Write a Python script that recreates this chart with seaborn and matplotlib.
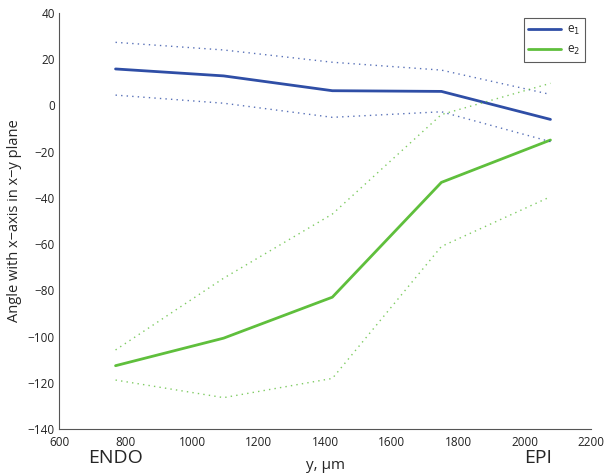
import numpy as np
import pandas as pd
import seaborn as sns
import matplotlib
matplotlib.use('Agg')
import matplotlib.pyplot as plt

# depth positions across the wall (um)
y_pos = [770, 1095, 1422, 1750, 2078]

# e1 angle: mean and bounds
e1_mean = [15.7, 12.7, 6.3, 6.0, -6.1]
e1_upper = [27.2, 23.9, 18.6, 15.2, 4.7]
e1_lower = [4.4, 0.9, -5.2, -2.8, -15.7]

# e2 angle: mean and bounds
e2_mean = [-112.5, -100.6, -82.9, -33.3, -15.0]
e2_upper = [-105.7, -74.7, -47.0, -4.0, 9.5]
e2_lower = [-118.7, -126.3, -118.0, -61.0, -39.5]

blue = '#2f4ea6'
green = '#5fbf3c'

sns.set_style('white')
plt.rcParams['font.family'] = ['Open Sans', 'DejaVu Sans']

fig = plt.figure(figsize=(6.11, 4.76), dpi=100)
ax = fig.add_axes([0.0966, 0.098, 0.8707, 0.8753])

df = pd.DataFrame({'y': y_pos, 'e1': e1_mean, 'e1u': e1_upper, 'e1l': e1_lower,
                   'e2': e2_mean, 'e2u': e2_upper, 'e2l': e2_lower})

sns.lineplot(data=df, x='y', y='e1', color=blue, linewidth=2, ax=ax, label='e$_1$')
sns.lineplot(data=df, x='y', y='e2', color=green, linewidth=2, ax=ax, label='e$_2$')
for col, c in [('e1u', blue), ('e1l', blue), ('e2u', green), ('e2l', green)]:
    sns.lineplot(data=df, x='y', y=col, color=c, linewidth=1.0, ax=ax,
                 dashes=False, alpha=0.8)
    ax.lines[-1].set_dashes((1, 3))

ax.set_xlim(600, 2200)
ax.set_ylim(-140, 40)
ax.set_xticks(np.arange(600, 2201, 200))
ax.set_yticks(np.arange(-140, 41, 20))
ax.tick_params(direction='in', length=4, width=0.8, color='#555555',
               labelsize=8.5, pad=3, labelcolor='#222222')
ax.tick_params(axis='x', pad=5)
for s in ['top', 'right']:
    ax.spines[s].set_visible(False)
for s in ['left', 'bottom']:
    ax.spines[s].set_color('#555555')
    ax.spines[s].set_linewidth(0.8)

ax.set_xlabel('y, \u03bcm', fontsize=11, labelpad=6)
ax.set_ylabel('Angle with x\u2212axis in x\u2212y plane', fontsize=10.5, labelpad=4)

trans = matplotlib.transforms.blended_transform_factory(ax.transData, ax.transAxes)
ax.text(770, -0.068, 'ENDO', transform=trans, ha='center', va='center', fontsize=14)
ax.text(2040, -0.068, 'EPI', transform=trans, ha='center', va='center', fontsize=14)

leg = ax.legend(loc='upper right', bbox_to_anchor=(0.989, 0.987), borderaxespad=0,
                fontsize=8.5, frameon=True, fancybox=False, handlelength=2.8,
                borderpad=0.4, handletextpad=0.5)
leg.get_frame().set_edgecolor('#333333')
leg.get_frame().set_linewidth(0.8)

fig.savefig('out.png', dpi=100)
